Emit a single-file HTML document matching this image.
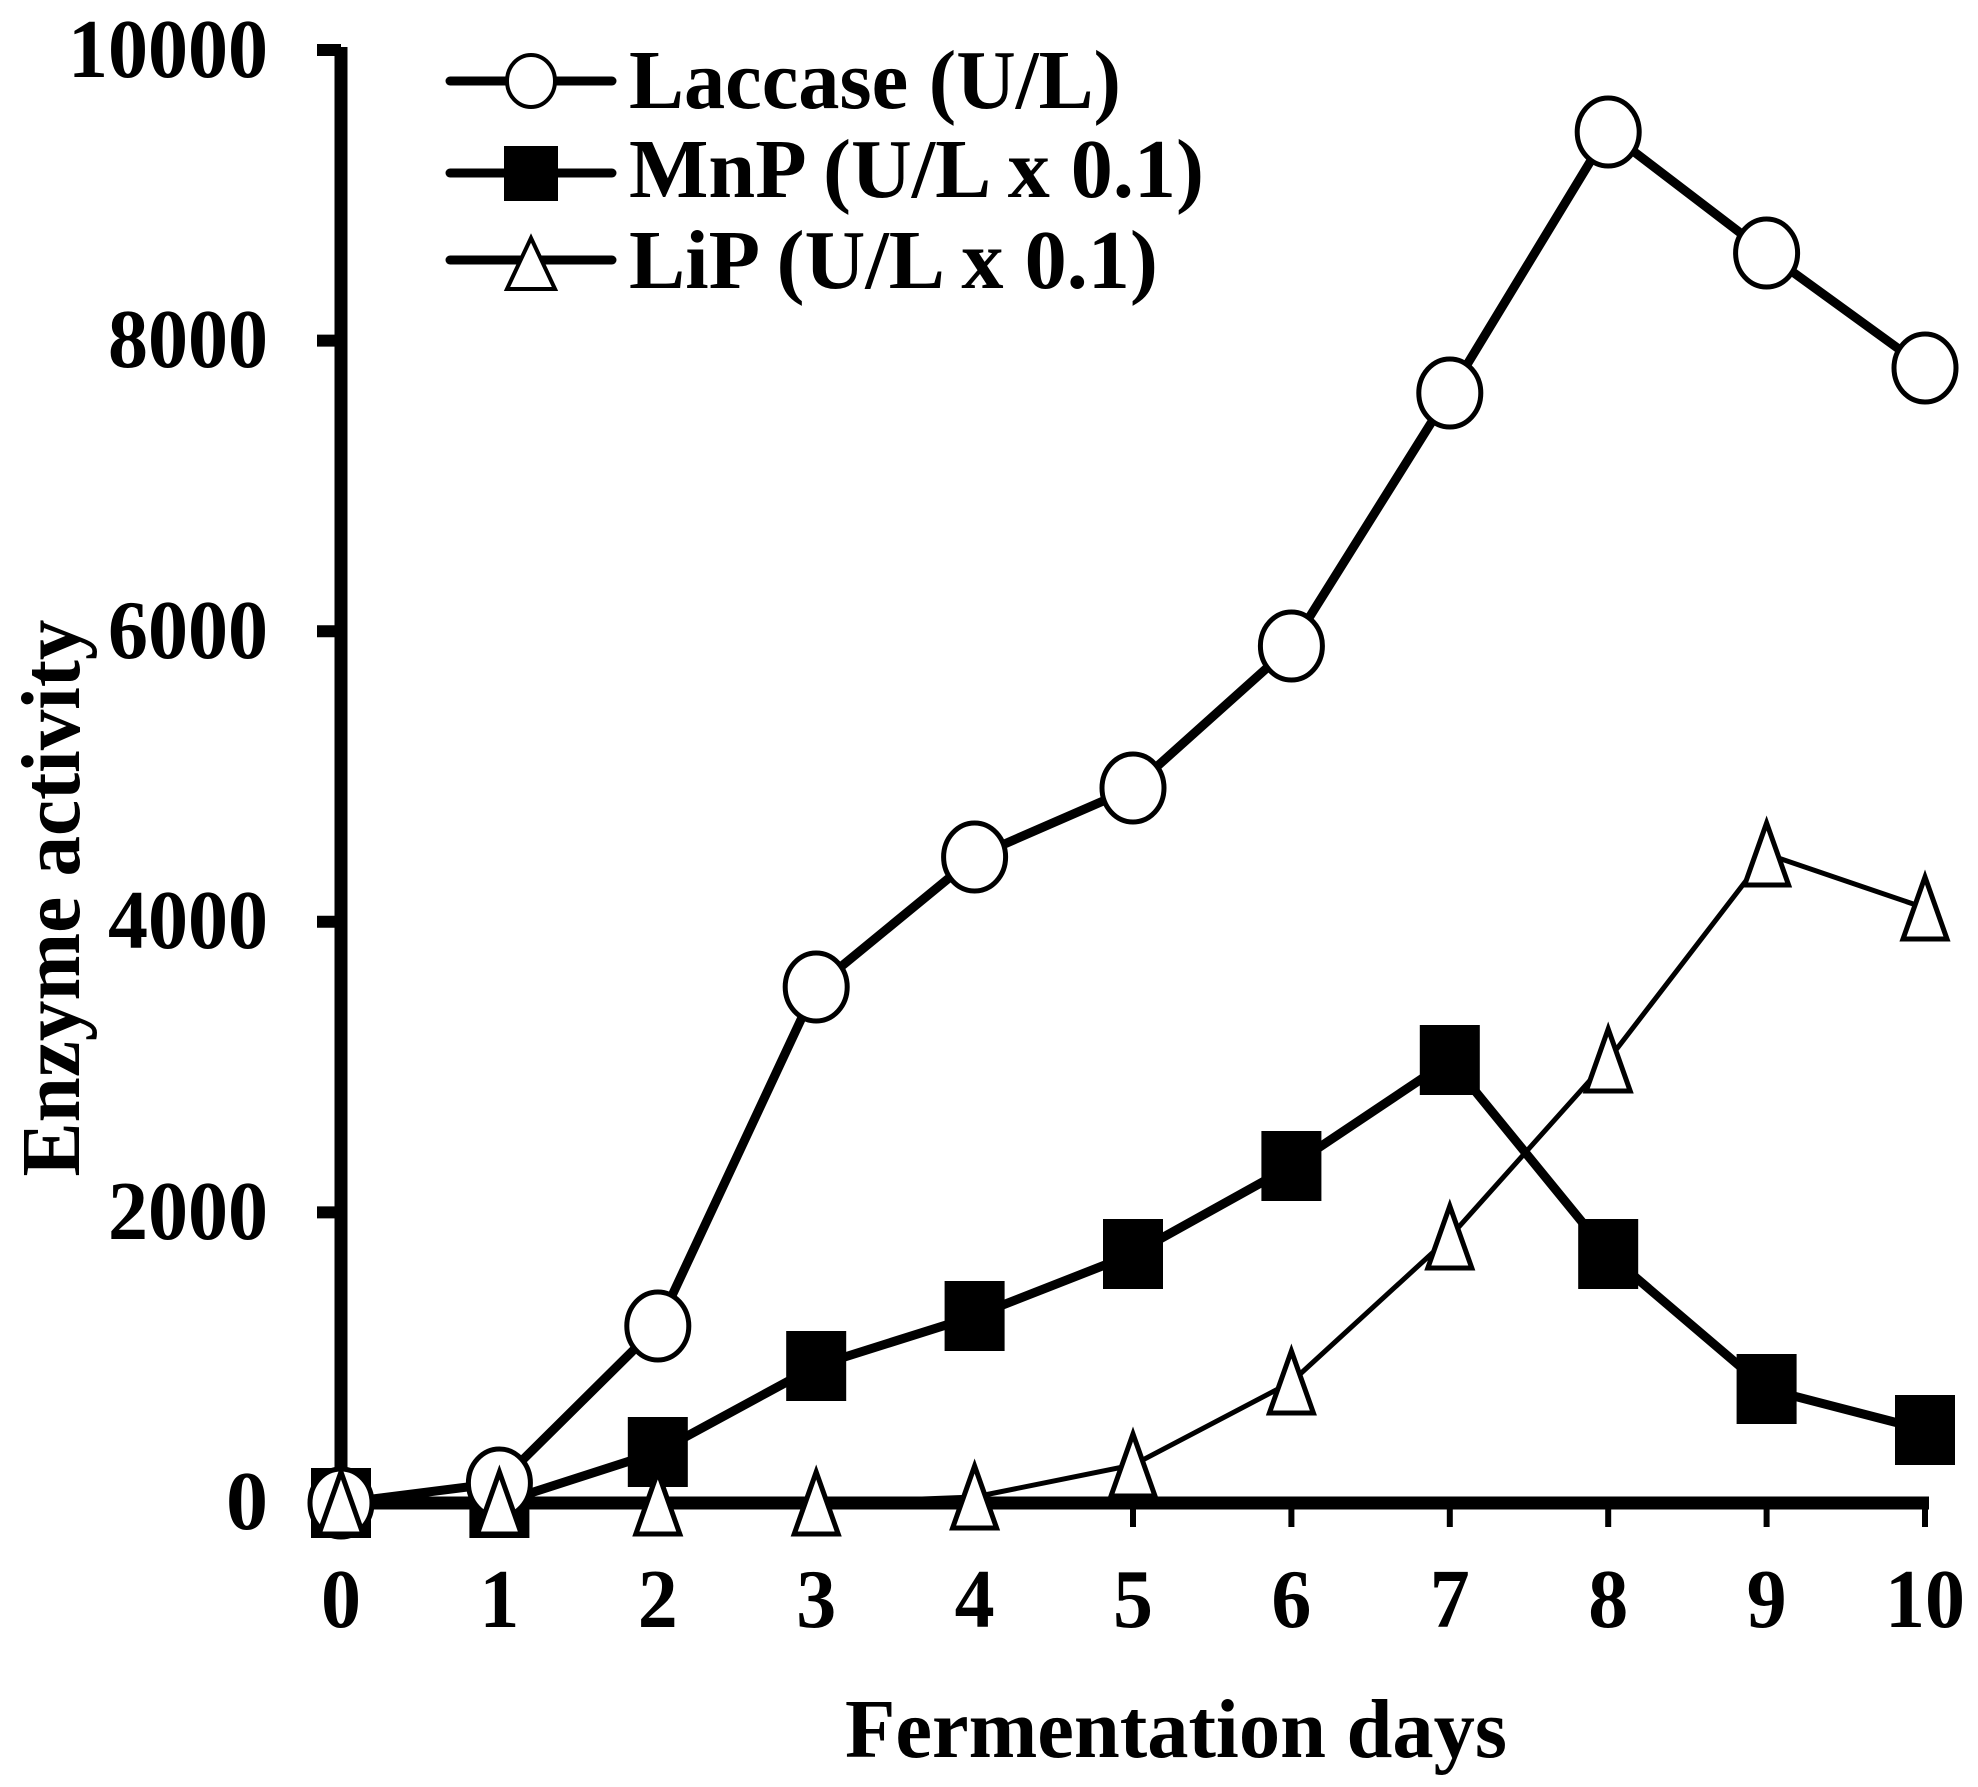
<!DOCTYPE html>
<html><head><meta charset="utf-8"><style>html,body{margin:0;padding:0;background:#fff}svg{display:block}</style></head>
<body>
<svg width="1978" height="1787" viewBox="0 0 1978 1787" xmlns="http://www.w3.org/2000/svg" font-family="'Liberation Serif', serif" font-weight="bold">
<rect width="1978" height="1787" fill="#fff"/>
<!-- axes -->
<g stroke="#000" stroke-width="13" fill="none">
<line x1="341" y1="47" x2="341" y2="1503"/>
<line x1="335" y1="1503" x2="1929" y2="1503"/>
</g>
<g stroke="#000" stroke-width="12">
<line x1="317" y1="50" x2="341" y2="50"/>
<line x1="317" y1="340.6" x2="341" y2="340.6"/>
<line x1="317" y1="631.2" x2="341" y2="631.2"/>
<line x1="317" y1="921.8" x2="341" y2="921.8"/>
<line x1="317" y1="1212.4" x2="341" y2="1212.4"/>
<line x1="317" y1="1503" x2="341" y2="1503"/>
</g>
<g stroke="#000" stroke-width="6">
<line x1="341" y1="1503" x2="341" y2="1527"/><line x1="499.4" y1="1503" x2="499.4" y2="1527"/><line x1="657.8" y1="1503" x2="657.8" y2="1527"/><line x1="816.2" y1="1503" x2="816.2" y2="1527"/><line x1="974.6" y1="1503" x2="974.6" y2="1527"/><line x1="1133" y1="1503" x2="1133" y2="1527"/><line x1="1291.4" y1="1503" x2="1291.4" y2="1527"/><line x1="1449.8" y1="1503" x2="1449.8" y2="1527"/><line x1="1608.2" y1="1503" x2="1608.2" y2="1527"/><line x1="1766.6" y1="1503" x2="1766.6" y2="1527"/><line x1="1925" y1="1503" x2="1925" y2="1527"/>
</g>
<!-- y labels -->
<g font-size="84" text-anchor="end">
<text x="268" y="77" textLength="200" lengthAdjust="spacingAndGlyphs">10000</text>
<text x="268" y="367" textLength="160" lengthAdjust="spacingAndGlyphs">8000</text>
<text x="268" y="658" textLength="160" lengthAdjust="spacingAndGlyphs">6000</text>
<text x="268" y="948" textLength="160" lengthAdjust="spacingAndGlyphs">4000</text>
<text x="268" y="1239" textLength="160" lengthAdjust="spacingAndGlyphs">2000</text>
<text x="268" y="1529">0</text>
</g>
<!-- x labels -->
<g font-size="84" text-anchor="middle">
<text x="341" y="1627" textLength="40" lengthAdjust="spacingAndGlyphs">0</text>
<text x="499.4" y="1627" textLength="40" lengthAdjust="spacingAndGlyphs">1</text>
<text x="657.8" y="1627" textLength="40" lengthAdjust="spacingAndGlyphs">2</text>
<text x="816.2" y="1627" textLength="40" lengthAdjust="spacingAndGlyphs">3</text>
<text x="974.6" y="1627" textLength="40" lengthAdjust="spacingAndGlyphs">4</text>
<text x="1133" y="1627" textLength="40" lengthAdjust="spacingAndGlyphs">5</text>
<text x="1291.4" y="1627" textLength="40" lengthAdjust="spacingAndGlyphs">6</text>
<text x="1449.8" y="1627" textLength="40" lengthAdjust="spacingAndGlyphs">7</text>
<text x="1608.2" y="1627" textLength="40" lengthAdjust="spacingAndGlyphs">8</text>
<text x="1766.6" y="1627" textLength="40" lengthAdjust="spacingAndGlyphs">9</text>
<text x="1925" y="1627" textLength="80" lengthAdjust="spacingAndGlyphs">10</text>
</g>
<text x="1176" y="1757" font-size="84" text-anchor="middle" textLength="662" lengthAdjust="spacingAndGlyphs">Fermentation days</text>
<text transform="translate(79,898) rotate(-90)" font-size="84" text-anchor="middle" textLength="557" lengthAdjust="spacingAndGlyphs">Enzyme activity</text>

<!-- LiP line (thin) -->
<polyline fill="none" stroke="#000" stroke-width="5" points="341,1503 499.4,1503 657.8,1503 816.2,1503 974.6,1497 1133,1465 1291.4,1382 1449.8,1237 1608.2,1060 1766.6,854 1925,908"/>
<!-- MnP line -->
<polyline fill="none" stroke="#000" stroke-width="9" points="341,1503 499.4,1503 657.8,1452 816.2,1366 974.6,1316 1133,1254 1291.4,1166 1449.8,1060 1608.2,1254 1766.6,1389 1925,1430"/>
<!-- Laccase line -->
<polyline fill="none" stroke="#000" stroke-width="9" points="341,1503 499.4,1483 657.8,1326 816.2,987 974.6,857 1133,788 1291.4,646 1449.8,393 1608.2,132 1766.6,253 1925,368"/>

<!-- MnP markers -->
<g fill="#000">
<rect x="311" y="1468" width="60" height="70"/><rect x="469.4" y="1468" width="60" height="70"/><rect x="627.8" y="1417" width="60" height="70"/><rect x="786.2" y="1331" width="60" height="70"/><rect x="944.6" y="1281" width="60" height="70"/><rect x="1103" y="1219" width="60" height="70"/><rect x="1261.4" y="1131" width="60" height="70"/><rect x="1419.8" y="1025" width="60" height="70"/><rect x="1578.2" y="1219" width="60" height="70"/><rect x="1736.6" y="1354" width="60" height="70"/><rect x="1895" y="1395" width="60" height="70"/>
</g>
<!-- Laccase markers -->
<g fill="#fff" stroke="#000" stroke-width="5">
<ellipse cx="341" cy="1503" rx="31" ry="34"/><ellipse cx="499.4" cy="1483" rx="31" ry="34"/><ellipse cx="657.8" cy="1326" rx="31" ry="34"/><ellipse cx="816.2" cy="987" rx="31" ry="34"/><ellipse cx="974.6" cy="857" rx="31" ry="34"/><ellipse cx="1133" cy="788" rx="31" ry="34"/><ellipse cx="1291.4" cy="646" rx="31" ry="34"/><ellipse cx="1449.8" cy="393" rx="31" ry="34"/><ellipse cx="1608.2" cy="132" rx="31" ry="34"/><ellipse cx="1766.6" cy="253" rx="31" ry="34"/><ellipse cx="1925" cy="368" rx="31" ry="34"/>
</g>
<!-- LiP markers -->
<g fill="#fff" stroke="#000" stroke-width="5" stroke-linejoin="miter">
<polygon points="341,1472 319,1534 363,1534"/>
<polygon points="499.4,1472 477.4,1534 521.4,1534"/>
<polygon points="657.8,1472 635.8,1534 679.8,1534"/>
<polygon points="816.2,1472 794.2,1534 838.2,1534"/>
<polygon points="974.6,1466 952.6,1528 996.6,1528"/>
<polygon points="1133,1434 1111,1496 1155,1496"/>
<polygon points="1291.4,1351 1269.4,1413 1313.4,1413"/>
<polygon points="1449.8,1206 1427.8,1268 1471.8,1268"/>
<polygon points="1608.2,1029 1586.2,1091 1630.2,1091"/>
<polygon points="1766.6,823 1744.6,885 1788.6,885"/>
<polygon points="1925,877 1903,939 1947,939"/>
</g>

<!-- legend -->
<line x1="450" y1="81" x2="612" y2="81" stroke="#000" stroke-width="9" stroke-linecap="round"/>
<ellipse cx="531" cy="81" rx="24" ry="26" fill="#fff" stroke="#000" stroke-width="4"/>
<line x1="450" y1="173" x2="612" y2="173" stroke="#000" stroke-width="9" stroke-linecap="round"/>
<rect x="504" y="146" width="54" height="55" fill="#000"/>
<line x1="450" y1="260" x2="612" y2="260" stroke="#000" stroke-width="9" stroke-linecap="round"/>
<polygon points="531,238 507,289 555,289" fill="#fff" stroke="#000" stroke-width="4"/>
<g font-size="84">
<text x="629" y="108" textLength="492" lengthAdjust="spacingAndGlyphs">Laccase (U/L)</text>
<text x="629" y="197" textLength="575" lengthAdjust="spacingAndGlyphs">MnP (U/L x 0.1)</text>
<text x="629" y="288" textLength="529" lengthAdjust="spacingAndGlyphs">LiP (U/L x 0.1)</text>
</g>
</svg>
</body></html>
